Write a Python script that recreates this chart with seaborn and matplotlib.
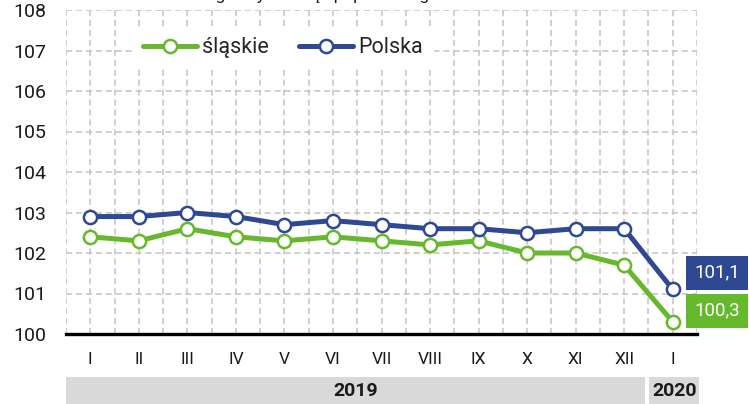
import matplotlib.pyplot as plt
import matplotlib.transforms as mtransforms
from matplotlib.patches import Rectangle
import numpy as np
import pandas as pd
import seaborn as sns

months = ["I", "II", "III", "IV", "V", "VI", "VII", "VIII", "IX", "X", "XI", "XII", "I"]
years = ["2019", "2020"]
slaskie = [102.4, 102.3, 102.6, 102.4, 102.3, 102.4, 102.3, 102.2, 102.3, 102.0, 102.0, 101.7, 100.3]
polska = [102.9, 102.9, 103.0, 102.9, 102.7, 102.8, 102.7, 102.6, 102.6, 102.5, 102.6, 102.6, 101.1]

GREEN = "#66b82c"
NAVY = "#2f4893"

sns.set_theme(style="white")
plt.rcParams["font.family"] = ["Roboto", "DejaVu Sans"]

df = pd.DataFrame({"pos": np.arange(len(months)), "śląskie": slaskie, "Polska": polska})

fig = plt.figure(figsize=(7.49, 4.04), dpi=100)
ax = fig.add_axes([66 / 749, 70 / 404, 631 / 749, 324 / 404])

for name, color in [("śląskie", GREEN), ("Polska", NAVY)]:
    sns.lineplot(data=df, x="pos", y=name, ax=ax, color=color, lw=3.6, marker="o",
                 markersize=9.5, markerfacecolor="white", markeredgecolor=color,
                 markeredgewidth=1.8, label=name, zorder=3)

ax.set_xlim(-0.5, len(months) - 0.5)
ax.set_ylim(100, 108)
ax.set_yticks(range(100, 109))
ax.set_xticks(df["pos"])
ax.set_xticklabels(months)
ax.set_xticks(np.arange(-0.5, len(months), 1.0), minor=True)
ax.set_xlabel("")
ax.set_ylabel("")
ax.tick_params(axis="both", length=0, colors="#1a1a1a")
ax.tick_params(axis="x", pad=13, labelsize=12.5)
ax.tick_params(axis="y", pad=14, labelsize=14)

ax.grid(True, axis="y", color="#c4c4c4", ls=(0, (4, 2.5)), lw=1.1)
ax.grid(True, axis="x", which="both", color="#c4c4c4", ls=(0, (4, 2.5)), lw=1.1)
ax.set_axisbelow(True)

for s in ["left", "right", "top"]:
    ax.spines[s].set_visible(False)
ax.spines["bottom"].set_color("black")
ax.spines["bottom"].set_linewidth(2.4)
ax.spines["bottom"].set_zorder(4)

leg = ax.legend(loc="center", bbox_to_anchor=(0.344, 0.883), ncol=2, fontsize=15.5,
                frameon=True, facecolor="white", edgecolor="none", framealpha=1,
                fancybox=False, handlelength=2.5, columnspacing=1.4, borderpad=0.5,
                handletextpad=0.25)

# value labels for the last month
ax.annotate("101,1", xy=(df["pos"].iloc[-1], polska[-1]), xytext=(32, 12),
            textcoords="offset points", ha="center", va="center", color="white",
            fontsize=13.5, annotation_clip=False, zorder=5,
            bbox=dict(boxstyle="square,pad=0.42", fc=NAVY, ec="none"))
ax.annotate("100,3", xy=(df["pos"].iloc[-1], slaskie[-1]), xytext=(32, 8),
            textcoords="offset points", ha="center", va="center", color="white",
            fontsize=13.5, annotation_clip=False, zorder=5,
            bbox=dict(boxstyle="square,pad=0.42", fc=GREEN, ec="none"))

# year bands below the month labels
trans = mtransforms.blended_transform_factory(ax.transData, ax.transAxes)
spans = [(-0.5, 11.43), (11.52, 12.54)]
for (x0, x1), yr in zip(spans, years):
    ax.add_patch(Rectangle((x0, -0.216), x1 - x0, 0.082, transform=trans,
                           fc="#d9d9d9", ec="none", clip_on=False))
    ax.text((x0 + x1) / 2, -0.176, yr, transform=trans, ha="center", va="center",
            fontsize=14, fontweight="bold", color="#1a1a1a")

# subtitle cut by the top edge, only descenders show
fig.text(0.466, 1.0, "analogiczny miesiąc poprzedniego roku = 100",
         ha="center", va="baseline", fontsize=12.5, color="#1a1a1a")

fig.savefig("out.png", dpi=100)
